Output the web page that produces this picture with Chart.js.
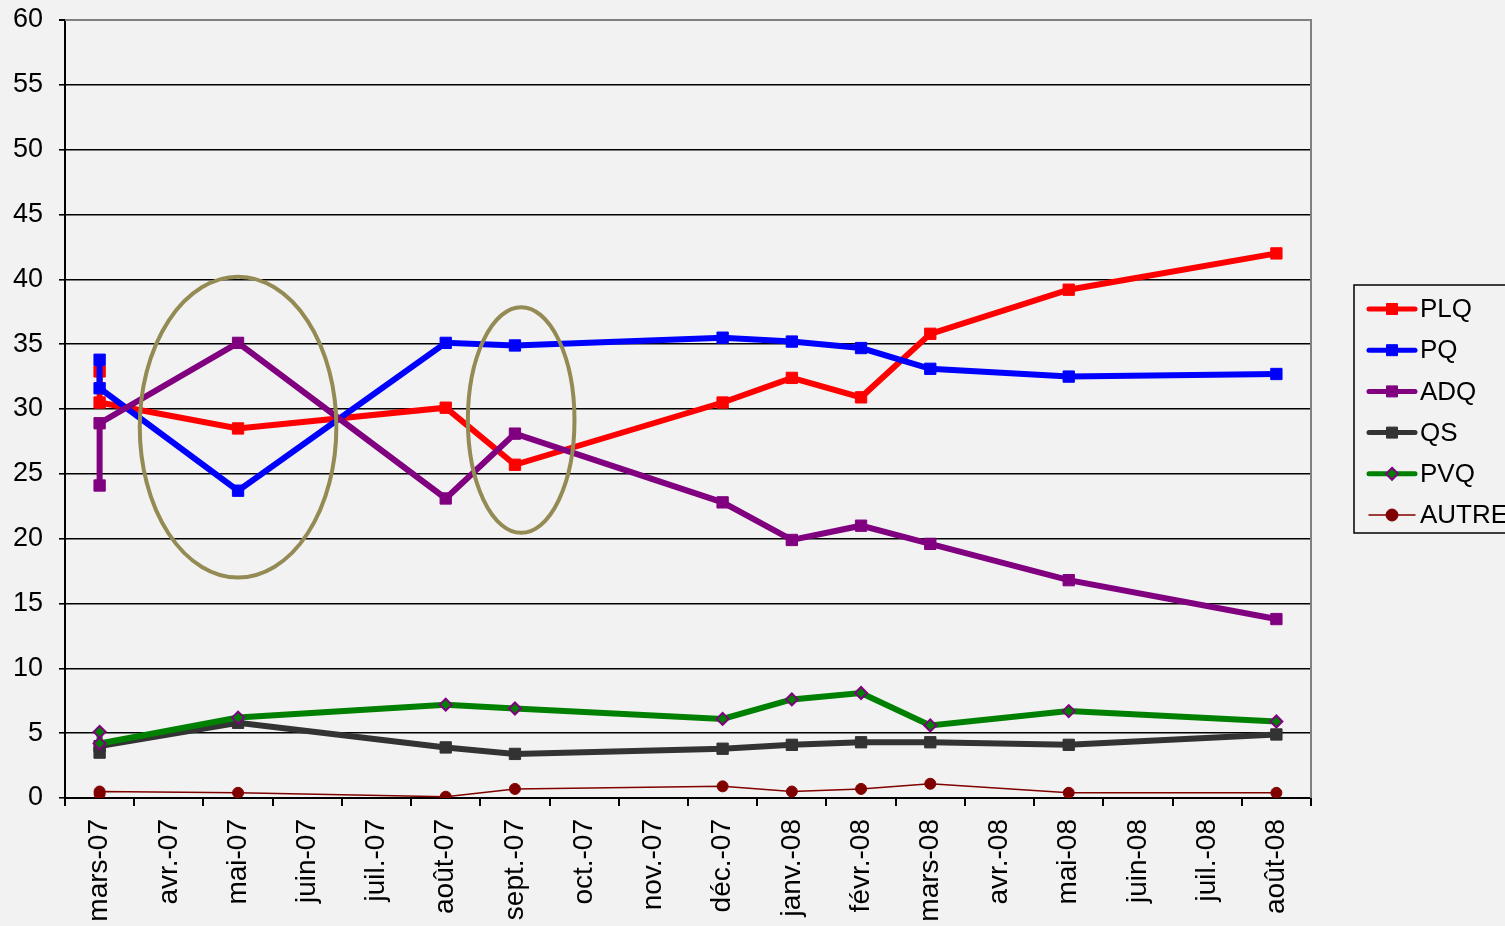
<!DOCTYPE html>
<html>
<head>
<meta charset="utf-8">
<script src="https://cdn.jsdelivr.net/npm/chart.js@4.4.1/dist/chart.umd.min.js"></script>
<style>
html,body{margin:0;padding:0;background:#f2f2f2;overflow:hidden}
#wrap{width:1505px;height:926px;position:relative}
</style>
</head>
<body>
<div id="wrap"><canvas id="c" width="1505" height="926"></canvas></div>
<script>
// Axis month labels (Excel date axis, monthly base unit)
const monthLabels = ['mars-07','avr.-07','mai-07','juin-07','juil.-07','août-07','sept.-07','oct.-07','nov.-07','déc.-07','janv.-08','févr.-08','mars-08','avr.-08','mai-08','juin-08','juil.-08','août-08'];
// Month of each poll
const pollMonths = ['mars-07','mars-07','mai-07','août-07','sept.-07','déc.-07','janv.-08','févr.-08','mars-08','mai-08','août-08'];
// Series values (%)
const plq   = [32.9, 30.5, 28.5, 30.1, 25.7, 30.5, 32.4, 30.9, 35.8, 39.2, 42.0];
const pq    = [33.8, 31.6, 23.7, 35.1, 34.9, 35.5, 35.2, 34.7, 33.1, 32.5, 32.7];
const adq   = [24.1, 28.9, 35.1, 23.1, 28.1, 22.8, 19.9, 21.0, 19.6, 16.8, 13.8];
const qs    = [3.5, 4.0, 5.8, 3.9, 3.4, 3.8, 4.1, 4.3, 4.3, 4.1, 4.9];
const pvq   = [5.1, 4.2, 6.2, 7.2, 6.9, 6.1, 7.6, 8.1, 5.6, 6.7, 5.9];
const autre = [0.3, 0.5, 0.4, 0.1, 0.7, 0.9, 0.5, 0.7, 1.1, 0.4, 0.4];
const seriesNames = ['PLQ','PQ','ADQ','QS','PVQ','AUTRE'];
const yTicks = [0,5,10,15,20,25,30,35,40,45,50,55,60];

const FONT = "'Liberation Sans', Arial, sans-serif";
const pts = vals => vals.map((v, i) => ({x: pollMonths[i], y: v}));

const styles = [
  {color:'#ff0000', width:6, point:'rect', r:8, bg:'#ff0000', bc:'#ff0000', bw:1},
  {color:'#0000ff', width:6, point:'rect', r:8, bg:'#0000ff', bc:'#0000ff', bw:1},
  {color:'#800080', width:6, point:'rect', r:8, bg:'#800080', bc:'#800080', bw:1},
  {color:'#333333', width:6, point:'rect', r:8, bg:'#333333', bc:'#333333', bw:1},
  {color:'#008000', width:6, point:'rectRot', r:6, bg:'#008000', bc:'#800080', bw:2},
  {color:'#800000', width:1.5, point:'circle', r:5.5, bg:'#800000', bc:'#800000', bw:1}
];
const allSeries = [plq, pq, adq, qs, pvq, autre];

const datasets = allSeries.map((vals, i) => ({
  label: seriesNames[i],
  data: pts(vals),
  borderColor: styles[i].color,
  backgroundColor: styles[i].bg,
  borderWidth: styles[i].width,
  pointStyle: styles[i].point,
  pointRadius: styles[i].r,
  pointHoverRadius: styles[i].r,
  pointBackgroundColor: styles[i].bg,
  pointBorderColor: styles[i].bc,
  pointBorderWidth: styles[i].bw,
  tension: 0,
  fill: false
})).reverse(); // draw PLQ last (on top)

// Highlight ellipses (annotation drawn in data space)
const highlightCenters = [{month: 2, value: 28.6}, {month: 6.09, value: 29.15}];
const highlightRadii = [{months: 1.42, value: 11.6}, {months: 0.77, value: 8.7}];

const framePlugin = {
  id: 'frame',
  beforeDatasetsDraw(chart) {
    const {ctx, chartArea: a} = chart;
    ctx.save();
    ctx.strokeStyle = '#808080';
    ctx.lineWidth = 2;
    ctx.beginPath();
    ctx.moveTo(a.left, a.top);
    ctx.lineTo(a.right, a.top);
    ctx.lineTo(a.right, a.bottom);
    ctx.stroke();
    ctx.restore();
  }
};

const ellipsePlugin = {
  id: 'ellipses',
  afterDatasetsDraw(chart) {
    const {ctx, scales: {x, y}} = chart;
    ctx.save();
    ctx.strokeStyle = '#948a54';
    ctx.lineWidth = 4;
    highlightCenters.forEach((c, i) => {
      const cx = x.getPixelForValue(c.month);
      const cy = y.getPixelForValue(c.value);
      const rx = Math.abs(x.getPixelForValue(c.month + highlightRadii[i].months) - cx);
      const ry = Math.abs(y.getPixelForValue(c.value + highlightRadii[i].value) - cy);
      ctx.beginPath();
      ctx.ellipse(cx, cy, rx, ry, 0, 0, Math.PI * 2);
      ctx.stroke();
    });
    ctx.restore();
  }
};

const legendPlugin = {
  id: 'customLegend',
  afterDraw(chart) {
    const ctx = chart.ctx;
    const left = 1354, top = 285, bottom = 533;
    ctx.save();
    ctx.fillStyle = '#f2f2f2';
    ctx.fillRect(left, top, 200, bottom - top);
    ctx.strokeStyle = '#000';
    ctx.lineWidth = 1.5;
    ctx.strokeRect(left, top, 200, bottom - top);
    seriesNames.forEach((name, i) => {
      const st = styles[i];
      const cy = 309 + i * 41.2;
      ctx.strokeStyle = st.color;
      ctx.lineWidth = i === 5 ? 1.5 : 5;
      ctx.lineCap = 'round';
      ctx.beginPath();
      ctx.moveTo(1369, cy);
      ctx.lineTo(1415, cy);
      ctx.stroke();
      ctx.lineCap = 'butt';
      const mx = 1392;
      ctx.fillStyle = st.bg;
      ctx.strokeStyle = st.bc;
      ctx.lineWidth = st.bw;
      ctx.beginPath();
      if (st.point === 'rect') {
        ctx.rect(mx - 5.5, cy - 5.5, 11, 11);
      } else if (st.point === 'rectRot') {
        ctx.moveTo(mx, cy - 6); ctx.lineTo(mx + 6, cy); ctx.lineTo(mx, cy + 6); ctx.lineTo(mx - 6, cy); ctx.closePath();
      } else {
        ctx.arc(mx, cy, 6, 0, Math.PI * 2);
      }
      ctx.fill();
      ctx.stroke();
      ctx.fillStyle = '#000';
      ctx.font = '26px ' + FONT;
      ctx.textBaseline = 'middle';
      ctx.textAlign = 'left';
      ctx.fillText(name, 1420, cy + 1);
    });
    ctx.restore();
  }
};

new Chart(document.getElementById('c'), {
  type: 'line',
  data: {labels: monthLabels, datasets},
  options: {
    responsive: false,
    animation: false,
    devicePixelRatio: 1,
    layout: {padding: {top: 20, right: 194, left: 0, bottom: 0}},
    plugins: {legend: {display: false}, tooltip: {enabled: false}},
    scales: {
      x: {
        type: 'category',
        offset: true,
        grid: {offset: true, drawOnChartArea: false, drawTicks: true, tickLength: 8, color: '#000', lineWidth: 2},
        border: {display: true, color: '#000', width: 2},
        ticks: {autoSkip: false, maxRotation: 90, minRotation: 90, padding: 13, color: '#000', font: {family: FONT, size: 28}},
        afterFit(s) { s.height = 128; s.paddingLeft = 0; s.paddingRight = 0; }
      },
      y: {
        min: 0, max: 60,
        afterBuildTicks(s) { s.ticks = yTicks.map(v => ({value: v})); },
        grid: {
          color: c => (c.tick && c.tick.value === 60) ? '#808080' : '#000',
          lineWidth: c => (c.tick && c.tick.value === 60) ? 2 : 1.6,
          tickColor: '#000', tickLength: 6, drawTicks: true
        },
        border: {display: true, color: '#000', width: 2},
        ticks: {padding: 16, color: '#000', font: {family: FONT, size: 27}},
        afterFit(s) { s.width = 65; s.paddingTop = 0; s.paddingBottom = 0; }
      }
    }
  },
  plugins: [framePlugin, ellipsePlugin, legendPlugin]
});
</script>
</body>
</html>
